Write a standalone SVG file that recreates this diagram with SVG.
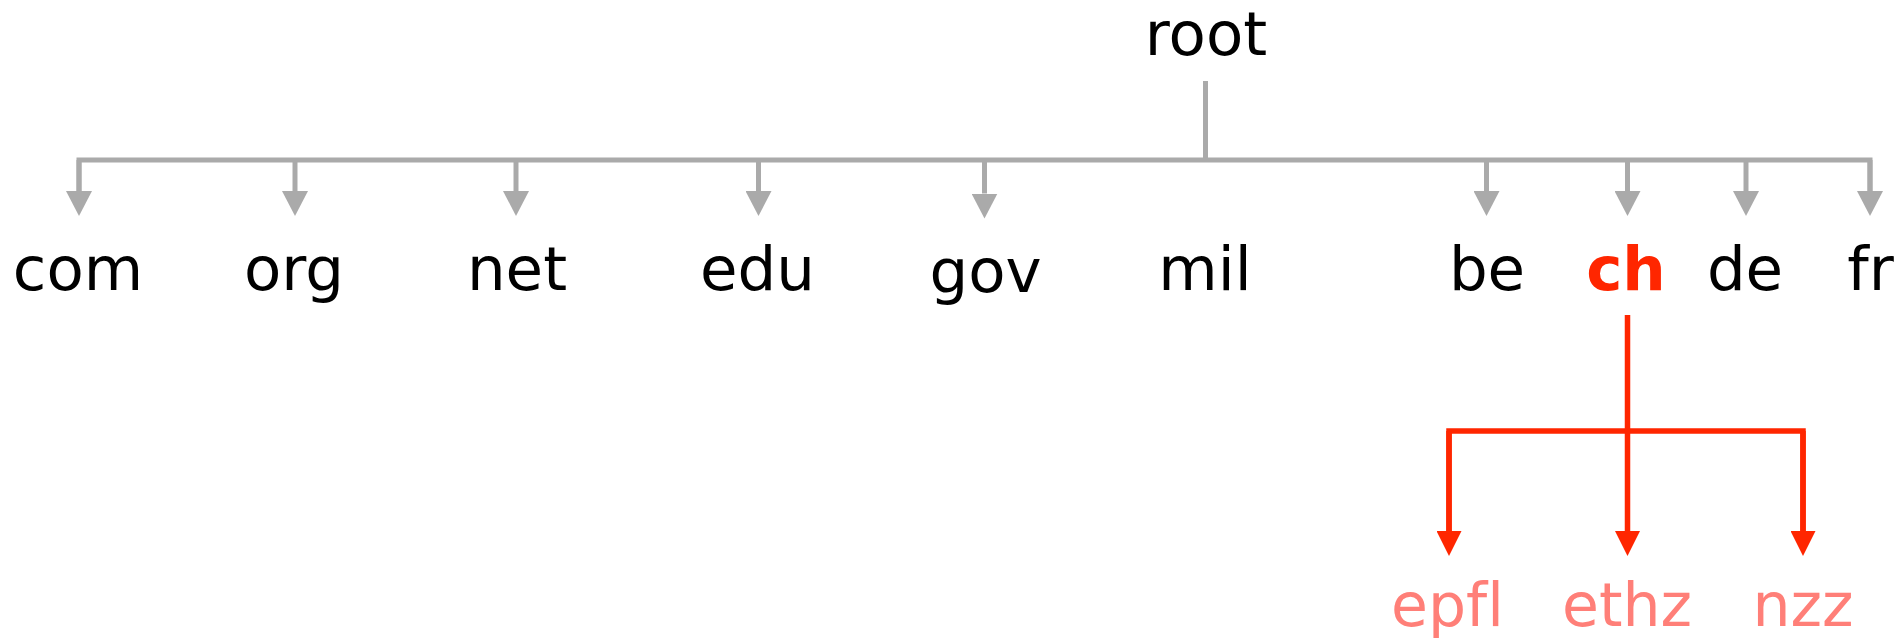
<svg xmlns="http://www.w3.org/2000/svg" width="1900" height="638" viewBox="0 0 1900 638">
  <style>
    .lbl { font-family: "DejaVu Sans", "Noto Sans", sans-serif; font-size: 61px; text-anchor: middle; fill: #000000; font-variant-ligatures: none; }
    .hi { font-weight: bold; fill: #ff2600; }
    .sub { fill: #ff7f78; font-size: 60px; }
    .gray { fill: none; stroke: #aaaaaa; stroke-width: 5; stroke-linejoin: miter; }
    .red { fill: none; stroke: #ff2600; stroke-width: 5.5; stroke-linejoin: miter; }
  </style>
  <defs>
    <marker id="ahGray" markerUnits="userSpaceOnUse" viewBox="0 -13 25 26" markerWidth="25" markerHeight="26" refX="0" refY="0" orient="auto">
      <path d="M0,-13 L25,0 L0,13 Z" fill="#aaaaaa"/>
    </marker>
    <marker id="ahRed" markerUnits="userSpaceOnUse" viewBox="0 -12.5 25 25" markerWidth="25" markerHeight="25" refX="0" refY="0" orient="auto">
      <path d="M0,-12.5 L25,0 L0,12.5 Z" fill="#ff2600"/>
    </marker>
  </defs>

  <g id="connectors">
    <path class="gray" d="M1205.5,81 V160"/>
    <path class="gray" d="M79,191 V160 H1870 V191"/>
    <path class="gray" d="M79,160 V191" marker-end="url(#ahGray)"/>
    <path class="gray" d="M295,160 V191" marker-end="url(#ahGray)"/>
    <path class="gray" d="M516,160 V191" marker-end="url(#ahGray)"/>
    <path class="gray" d="M758.5,160 V191" marker-end="url(#ahGray)"/>
    <path class="gray" d="M984.5,160 V193.5" marker-end="url(#ahGray)"/>
    <path class="gray" d="M1486.5,160 V191" marker-end="url(#ahGray)"/>
    <path class="gray" d="M1627.5,160 V191" marker-end="url(#ahGray)"/>
    <path class="gray" d="M1746,160 V191" marker-end="url(#ahGray)"/>
    <path class="gray" d="M1870,160 V191" marker-end="url(#ahGray)"/>
    <path class="red" d="M1449,531 V431 H1803 V531"/>
    <path class="red" d="M1627.5,315 V531" marker-end="url(#ahRed)"/>
    <path class="red" d="M1449,431 V531" marker-end="url(#ahRed)"/>
    <path class="red" d="M1803,431 V531" marker-end="url(#ahRed)"/>
  </g>

  <g id="node-root"><text class="lbl" x="1206" y="55">root</text></g>
  <g id="node-com"><text class="lbl" x="78" y="289.5">com</text></g>
  <g id="node-org"><text class="lbl" x="294" y="289.5">org</text></g>
  <g id="node-net"><text class="lbl" x="517" y="289.5">net</text></g>
  <g id="node-edu"><text class="lbl" x="757.5" y="289.5">edu</text></g>
  <g id="node-gov"><text class="lbl" x="985.5" y="291.5">gov</text></g>
  <g id="node-mil"><text class="lbl" x="1205" y="289.5">mil</text></g>
  <g id="node-be"><text class="lbl" x="1487" y="289.5">be</text></g>
  <g id="node-ch"><text class="lbl hi" x="1626" y="289.5">ch</text></g>
  <g id="node-de"><text class="lbl" x="1745" y="289.5">de</text></g>
  <g id="node-fr"><text class="lbl" x="1870.5" y="289.5">fr</text></g>
  <g id="node-epfl"><text class="lbl sub" x="1447.5" y="626">epfl</text></g>
  <g id="node-ethz"><text class="lbl sub" x="1627" y="626">ethz</text></g>
  <g id="node-nzz"><text class="lbl sub" x="1803" y="626">nzz</text></g>
</svg>
